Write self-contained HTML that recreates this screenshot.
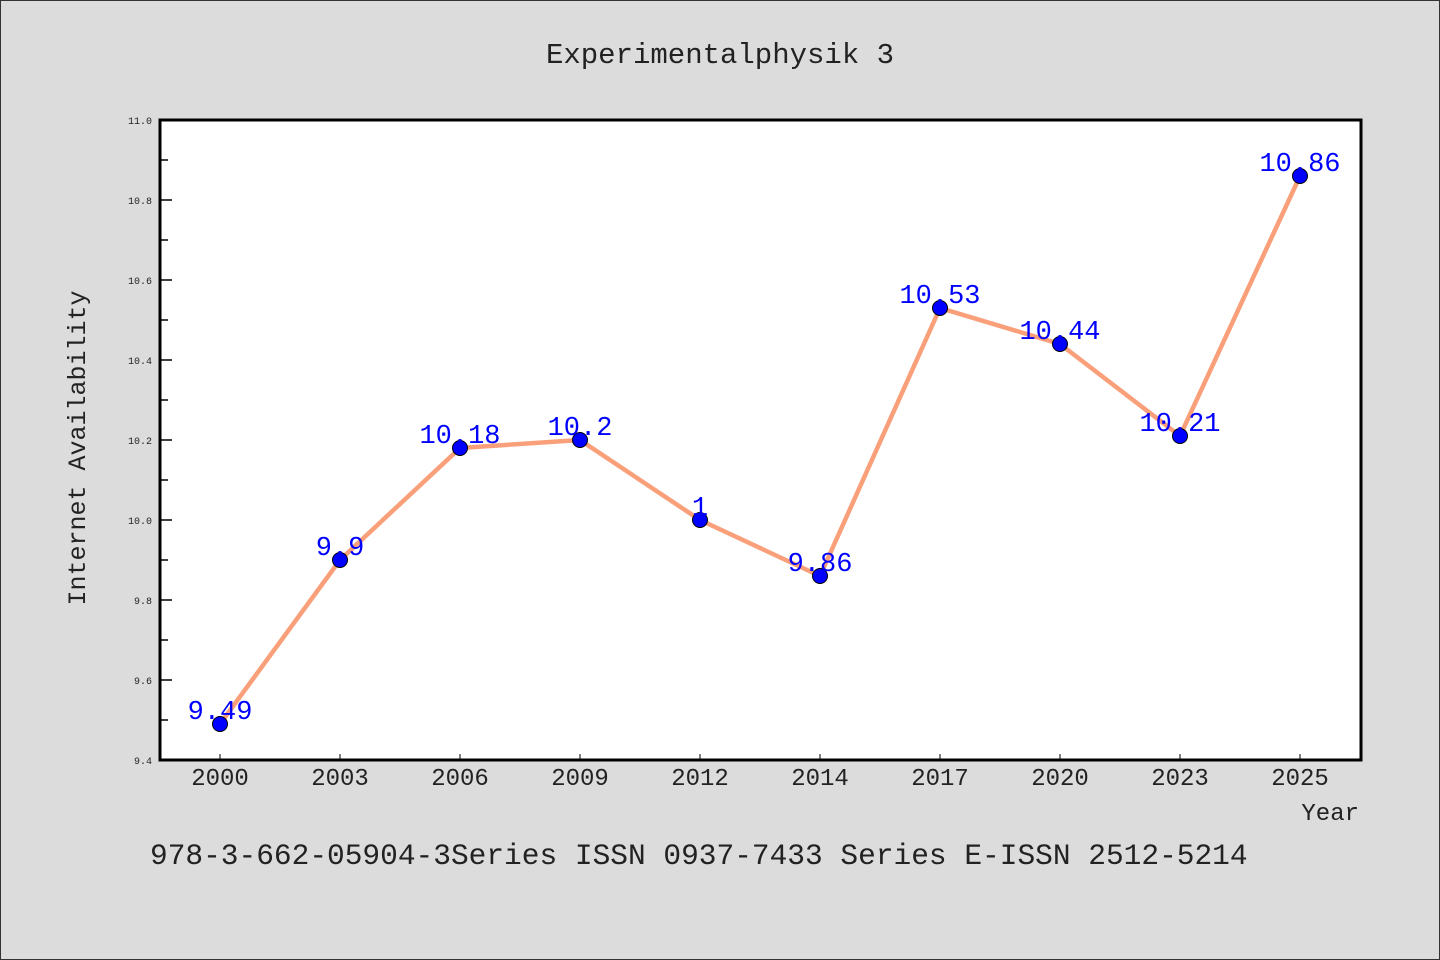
<!DOCTYPE html>
<html><head><meta charset="utf-8"><style>
html,body{margin:0;padding:0;}
body{width:1440px;height:960px;background:#dcdcdc;overflow:hidden;}
svg{display:block;}
svg text{font-family:"Liberation Mono","DejaVu Sans Mono",monospace;}
</style></head><body>
<svg id="chart" width="1440" height="960" xmlns="http://www.w3.org/2000/svg">
<rect x="0.5" y="0.5" width="1439" height="959" fill="#dcdcdc" stroke="#333"/>
<text x="720" y="63" text-anchor="middle" font-size="29" fill="#222">Experimentalphysik 3</text>
<rect x="160" y="120" width="1201" height="640" fill="#fff"/>
<g id="axes"></g>
<g id="marks"></g>
<rect x="160" y="120" width="1201" height="640" fill="none" stroke="#000" stroke-width="3"/>
<text x="1359" y="820" text-anchor="end" font-size="24" fill="#222">Year</text>
<text transform="translate(85,448) rotate(-90)" text-anchor="middle" font-size="25" fill="#222">Internet Availability</text>
<text x="150" y="864" font-size="29.5" fill="#222">978-3-662-05904-3Series ISSN 0937-7433 Series E-ISSN 2512-5214</text>
</svg>
<script>
const categories=["2000","2003","2006","2009","2012","2014","2017","2020","2023","2025"];
const values=[9.49,9.9,10.18,10.2,10,9.86,10.53,10.44,10.21,10.86];
const valueLabels=["9.49","9.9","10.18","10.2","1","9.86","10.53","10.44","10.21","10.86"];
const yTicks=[9.4,9.6,9.8,10.0,10.2,10.4,10.6,10.8,11.0];
const yMinor=[9.5,9.7,9.9,10.1,10.3,10.5,10.7,10.9];
const NS="http://www.w3.org/2000/svg";
const L=160,R=1360,T=120,B=760,yMin=9.4,yMax=11.0;
const step=(R-L)/categories.length;
function xs(i){return L+step*(i+0.5);}
function ys(v){return B-(v-yMin)/(yMax-yMin)*(B-T);}
function mk(tag,attrs,parent){const e=document.createElementNS(NS,tag);for(const k in attrs)e.setAttribute(k,attrs[k]);parent.appendChild(e);return e;}
const axes=document.getElementById('axes'),marks=document.getElementById('marks');
yTicks.forEach(v=>{
 const y=ys(v);
 const t=mk('line',{x1:L,x2:L+12,y1:y,y2:y,stroke:'#000','stroke-width':1.5},axes);
 
 
 const lb=mk('text',{x:152,y:y+4,'text-anchor':'end','font-size':10,fill:'#222'},axes);
 lb.textContent=v.toFixed(1);
 
 
});
yMinor.forEach(v=>{
 const y=ys(v);
 const t=mk('line',{x1:L,x2:L+8,y1:y,y2:y,stroke:'#000','stroke-width':1.5},axes);
 
 
});
categories.forEach((c,i)=>{
 const x=xs(i);
 const t=mk('line',{x1:x,x2:x,y1:B,y2:B-6,stroke:'#000','stroke-width':1},axes);
 
 
 const lb=mk('text',{x:x,y:785,'text-anchor':'middle','font-size':24,fill:'#222'},axes);
 lb.textContent=c;
 
 
});
const line=mk('polyline',{points:values.map((v,i)=>xs(i)+','+ys(v)).join(' '),fill:'none',stroke:'#f9a07a','stroke-width':4.5,'stroke-linejoin':'round'},marks);


values.forEach((v,i)=>{
 const c=mk('circle',{cx:xs(i),cy:ys(v),r:7.5,fill:'#0000ff',stroke:'#000','stroke-width':1},marks);
 
 
});
values.forEach((v,i)=>{
 const t=mk('text',{x:xs(i),y:ys(v)-5,'text-anchor':'middle','font-size':27,fill:'#0000ff'},marks);
 t.textContent=valueLabels[i];
 
 
});
</script>
</body></html>
